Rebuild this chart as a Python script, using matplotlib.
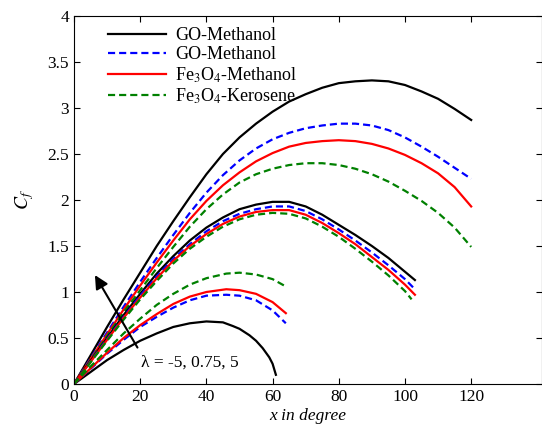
import matplotlib
matplotlib.use('Agg')
import matplotlib.pyplot as plt

plt.rcParams['font.family'] = ['Liberation Serif', 'DejaVu Serif']
plt.rcParams['mathtext.fontset'] = 'stix'

# angle x (degree) for each lambda group
x_top = [0, 5, 10, 15, 20, 25, 30, 35, 40, 45, 50, 55, 60, 65, 70, 75, 80, 85, 90, 95, 100, 105, 110, 115, 120]
x_mid = [0, 5, 10, 15, 20, 25, 30, 35, 40, 45, 50, 55, 60, 65, 70, 75, 80, 85, 90, 95, 100, 103]
x_mid_green = [0, 5, 10, 15, 20, 25, 30, 35, 40, 45, 50, 55, 60, 65, 70, 75, 80, 85, 90, 95, 100, 102]
x_low_black = [0, 5, 10, 15, 20, 25, 30, 35, 40, 45, 48, 50, 53, 55, 57, 59, 60, 61]
x_low = [0, 5, 10, 15, 20, 25, 30, 35, 40, 46, 50, 55, 60, 64]

# lambda = 5
cf_top_go_meth = [0, 0.31, 0.62, 0.92, 1.21, 1.50, 1.77, 2.03, 2.28, 2.50, 2.68, 2.83, 2.96, 3.07, 3.15, 3.22, 3.27, 3.29, 3.30, 3.29, 3.25, 3.18, 3.10, 2.99, 2.87]
cf_top_go_meth2 = [0, 0.28, 0.56, 0.84, 1.11, 1.37, 1.62, 1.86, 2.08, 2.27, 2.43, 2.56, 2.66, 2.73, 2.78, 2.81, 2.83, 2.83, 2.81, 2.76, 2.68, 2.58, 2.47, 2.35, 2.23]
cf_top_fe_meth = [0, 0.27, 0.54, 0.81, 1.07, 1.32, 1.56, 1.79, 1.99, 2.16, 2.30, 2.42, 2.51, 2.58, 2.62, 2.64, 2.65, 2.64, 2.61, 2.56, 2.49, 2.40, 2.29, 2.14, 1.93]
cf_top_fe_ker = [0, 0.26, 0.52, 0.78, 1.02, 1.26, 1.49, 1.71, 1.90, 2.06, 2.19, 2.28, 2.34, 2.38, 2.40, 2.40, 2.38, 2.34, 2.28, 2.20, 2.10, 1.99, 1.86, 1.70, 1.49]

# lambda = 0.75
cf_mid_go_meth = [0, 0.25, 0.50, 0.75, 0.98, 1.20, 1.39, 1.56, 1.70, 1.81, 1.90, 1.95, 1.98, 1.98, 1.93, 1.84, 1.73, 1.62, 1.50, 1.37, 1.22, 1.13]
cf_mid_go_meth2 = [0, 0.245, 0.49, 0.73, 0.96, 1.17, 1.36, 1.52, 1.66, 1.77, 1.85, 1.90, 1.93, 1.93, 1.88, 1.79, 1.68, 1.56, 1.43, 1.29, 1.14, 1.03]
cf_mid_fe_meth = [0, 0.24, 0.48, 0.72, 0.94, 1.15, 1.34, 1.50, 1.63, 1.74, 1.82, 1.87, 1.89, 1.89, 1.84, 1.75, 1.64, 1.52, 1.38, 1.24, 1.08, 0.97]
cf_mid_fe_ker = [0, 0.235, 0.47, 0.70, 0.92, 1.12, 1.31, 1.47, 1.60, 1.71, 1.79, 1.84, 1.86, 1.85, 1.80, 1.71, 1.60, 1.47, 1.33, 1.18, 1.01, 0.92]

# lambda = -5
cf_low_go_meth = [0, 0.13, 0.26, 0.37, 0.47, 0.55, 0.62, 0.66, 0.68, 0.67, 0.63, 0.60, 0.53, 0.47, 0.39, 0.29, 0.22, 0.10]
cf_low_go_meth2 = [0, 0.165, 0.33, 0.48, 0.62, 0.73, 0.83, 0.91, 0.96, 0.97, 0.96, 0.91, 0.80, 0.66]
cf_low_fe_meth = [0, 0.17, 0.34, 0.50, 0.64, 0.76, 0.87, 0.95, 1.00, 1.03, 1.02, 0.98, 0.89, 0.77]
cf_low_fe_ker = [0, 0.19, 0.37, 0.55, 0.71, 0.86, 0.98, 1.08, 1.15, 1.20, 1.21, 1.19, 1.14, 1.06]

labels = ['GO-Methanol', 'GO-Methanol', 'Fe$_3$O$_4$-Methanol', 'Fe$_3$O$_4$-Kerosene']

fig = plt.figure(figsize=(5.42, 4.30), dpi=100)
ax = fig.add_axes([74 / 542, 46 / 430, 468 / 542, 368 / 430])

solid = dict(lw=1.6)
dash = dict(lw=1.6, ls=(0, (3.2, 1.8)))

ax.plot(x_top, cf_top_go_meth, color='black', label=labels[0], **solid)
ax.plot(x_top, cf_top_go_meth2, color='blue', label=labels[1], **dash)
ax.plot(x_top, cf_top_fe_meth, color='red', label=labels[2], **solid)
ax.plot(x_top, cf_top_fe_ker, color='green', label=labels[3], **dash)

ax.plot(x_mid, cf_mid_go_meth, color='black', **solid)
ax.plot(x_mid, cf_mid_go_meth2, color='blue', **dash)
ax.plot(x_mid, cf_mid_fe_meth, color='red', **solid)
ax.plot(x_mid_green, cf_mid_fe_ker, color='green', **dash)

ax.plot(x_low_black, cf_low_go_meth, color='black', **solid)
ax.plot(x_low, cf_low_go_meth2, color='blue', **dash)
ax.plot(x_low, cf_low_fe_meth, color='red', **solid)
ax.plot(x_low, cf_low_fe_ker, color='green', **dash)

ax.annotate('', xy=(5.9, 1.21), xytext=(19.6, 0.37),
            arrowprops=dict(arrowstyle='-|>', color='black', lw=1.5,
                            mutation_scale=20))
ax.text(20.2, 0.23, '\u03bb = -5, 0.75, 5', fontsize=12.5, va='center', ha='left')

ax.set_xlim(0, 141.4)
ax.set_ylim(0, 4)
ax.set_xticks([0, 20, 40, 60, 80, 100, 120])
ax.set_yticks([0, 0.5, 1, 1.5, 2, 2.5, 3, 3.5, 4])
ax.set_yticklabels(['0', '0.5', '1', '1.5', '2', '2.5', '3', '3.5', '4'])
ax.tick_params(direction='in', top=True, right=True, length=4, labelsize=12.5)
ax.set_xlabel('x in degree', fontsize=12.5, style='italic', labelpad=2)
ax.set_ylabel('$C_f$', fontsize=14, labelpad=8)

ax.legend(loc='upper left', bbox_to_anchor=(0.05, 1.0), frameon=False,
          fontsize=13, handlelength=3.2, handletextpad=0.5,
          labelspacing=0.12, borderaxespad=0.2)

plt.savefig('out.png', dpi=100)
